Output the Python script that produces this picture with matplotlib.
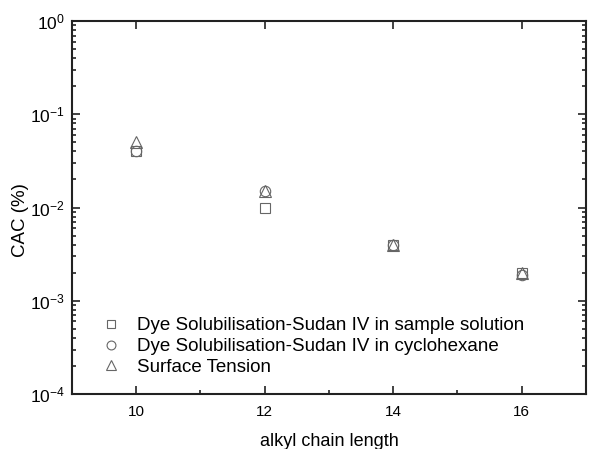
import matplotlib.pyplot as plt
from matplotlib.ticker import LogLocator, MultipleLocator, NullFormatter, FuncFormatter
import numpy as np

plt.rcParams['font.family'] = ['Liberation Sans', 'DejaVu Sans']
plt.rcParams['mathtext.fontset'] = 'custom'
plt.rcParams['mathtext.rm'] = 'Liberation Sans'

chain = [10, 12, 14, 16]
cac_sample = [0.04, 0.01, 0.004, 0.002]
cac_cyclohexane = [0.04, 0.015, 0.004, 0.0019]
cac_surface = [0.05, 0.015, 0.004, 0.002]
labels = ['Dye Solubilisation-Sudan IV in sample solution',
          'Dye Solubilisation-Sudan IV in cyclohexane',
          'Surface Tension']

fig = plt.figure(figsize=(5.9, 4.49), dpi=100)
ax = fig.add_axes([0.122, 0.1225, 0.871, 0.8305])

col = '#666666'
ax.plot(chain, cac_sample, ls='none', marker='s', ms=6.5, mfc='none', mec=col, mew=0.8, label=labels[0])
ax.plot(chain, cac_cyclohexane, ls='none', marker='o', ms=7.5, mfc='none', mec=col, mew=0.8, label=labels[1])
ax.plot(chain, cac_surface, ls='none', marker='^', ms=8.5, mfc='none', mec=col, mew=0.8, label=labels[2])

ax.set_yscale('log')
ax.set_ylim(1e-4, 1)
ax.set_xlim(9, 17)
ax.xaxis.set_major_locator(MultipleLocator(2))
ax.xaxis.set_minor_locator(MultipleLocator(1))
ax.yaxis.set_major_locator(LogLocator(base=10, numticks=10))
ax.yaxis.set_minor_locator(LogLocator(base=10, subs=range(2, 10), numticks=10))
ax.yaxis.set_minor_formatter(NullFormatter())
ax.yaxis.set_major_formatter(FuncFormatter(
    lambda v, p: r'$\mathregular{10^{%d}}$' % int(round(np.log10(v)))))

ax.tick_params(which='both', direction='in', top=True, right=True, width=1.2, labelsize=11, color='#222222')
ax.tick_params(axis='y', labelsize=12.5)
ax.tick_params(which='major', length=6)
ax.tick_params(which='minor', length=3)
ax.tick_params(axis='x', which='minor', top=False)
ax.tick_params(axis='x', pad=8)
ax.tick_params(axis='y', pad=5)
for s in ax.spines.values():
    s.set_linewidth(1.5)
    s.set_color('#222222')

ax.set_xlabel('alkyl chain length', fontsize=13, labelpad=10)
ax.set_ylabel('CAC (%)', fontsize=13.5)
ax.yaxis.set_label_coords(-0.083, 0.466)

ax.legend(loc='lower left', bbox_to_anchor=(0.025, 0.003), frameon=False, fontsize=13.5,
          handletextpad=0.9, labelspacing=0.2, handlelength=1.0, markerscale=0.85)

fig.savefig('out.png', dpi=100)
